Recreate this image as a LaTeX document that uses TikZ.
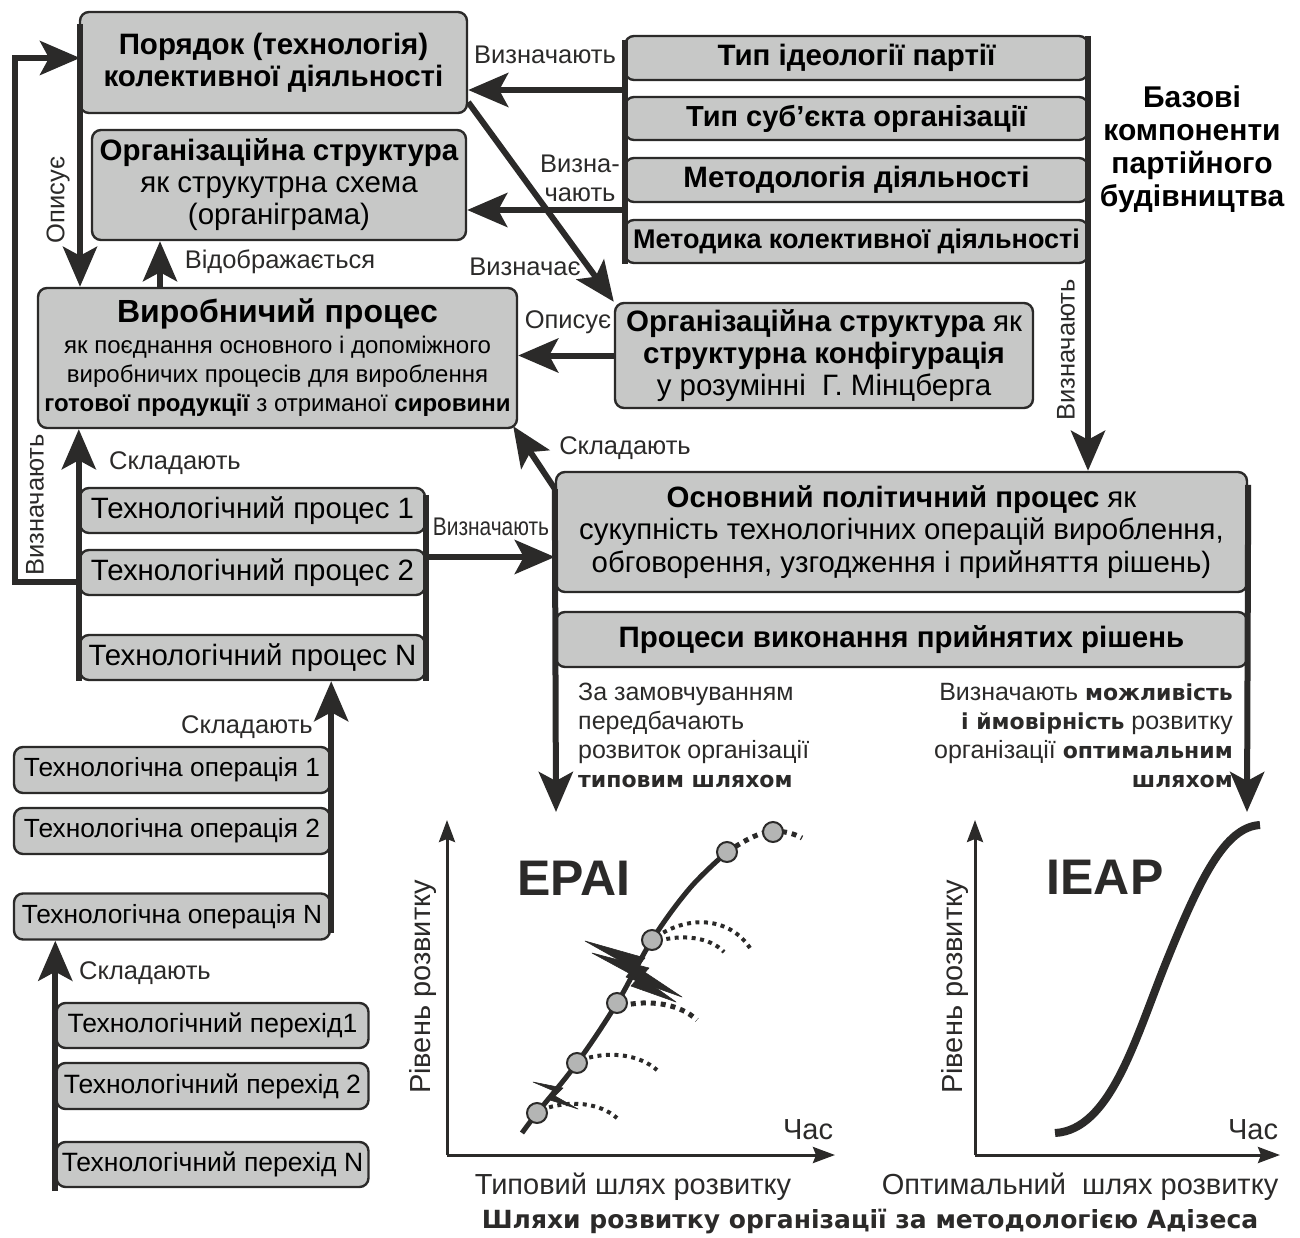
\documentclass[tikz,border=0pt]{standalone}
\usepackage{fontspec}
\setmainfont{Liberation Sans}
\newfontfamily\wide{DejaVu Sans}
\newfontfamily\cond[FakeStretch=0.82]{Liberation Sans}
\usetikzlibrary{arrows.meta}

\definecolor{ink}{HTML}{2B2A29}
\definecolor{boxfill}{HTML}{C7C8C7}
\definecolor{dotfill}{HTML}{B4B5B4}

\newcommand\fsz[2]{\fontsize{#1}{#2}\selectfont}

\begin{document}
\begin{tikzpicture}[x=1pt,y=-1pt,
  box/.style={draw=ink, line width=2.4pt, fill=boxfill, rounded corners=9pt,
    inner sep=0pt, align=center, text=black},
  conn/.style={draw=ink, line width=6pt},
  arr/.style={conn, -{Stealth[length=40pt,width=34pt,inset=9pt]}},
  lbl/.style={inner sep=0pt, text=ink, font=\fsz{25.5}{29}},
  hd/.style={font=\bfseries\fsz{29.5}{32}},
  note/.style={inner sep=0pt, text=ink, font=\fsz{25}{29}},
  axis/.style={draw=ink, line width=3pt, -{Stealth[length=22pt,width=16pt,inset=3pt]}},
  pathline/.style={draw=ink, line width=5pt},
  dotline/.style={draw=ink, line width=4pt, dash pattern=on 4pt off 4.5pt},
  stage/.style={circle, draw=ink, line width=2pt, fill=dotfill, minimum size=20pt, inner sep=0pt},
  flash/.style={fill=ink, draw=ink, line width=0.6pt, line join=round},
  gl/.style={inner sep=0pt, text=ink, font=\fsz{29}{32}}
]
\useasboundingbox (0,0) rectangle (1300,1238);

% ---------- upper block ----------
\node[box, hd, minimum width=387pt, minimum height=101pt] (b1) at (273.5,62.5)
  {Порядок (технологія)\\колективної діяльності};
\node[box, minimum width=374pt, minimum height=110pt, font=\fsz{29.5}{32}] (b2) at (279,185)
  {\textbf{Організаційна структура}\\як струкутрна схема\\(органіграма)};

% base components of party building
\node[box, font=\bfseries\fsz{29.5}{32}, minimum width=463pt, minimum height=44pt] (r1) at (856.5,58) {Тип ідеології партії};
\node[box, font=\bfseries\fsz{29}{32}, minimum width=463pt, minimum height=43pt] (r2) at (856.5,118.5) {Тип суб’єкта організації};
\node[box, font=\bfseries\fsz{29.5}{32}, minimum width=463pt, minimum height=44pt] (r3) at (856.5,180) {Методологія діяльності};
\node[box, font=\bfseries\fsz{27}{32}, minimum width=463pt, minimum height=43pt] (r4) at (856.5,241.5) {Методика колективної діяльності};
\node[inner sep=0pt, align=center, text=black, font=\bfseries\fsz{30}{33}] (base) at (1192,149)
  {Базові\\компоненти\\партійного\\будівництва};

\node[box, minimum width=479pt, minimum height=140pt, font=\fsz{24}{29}] (b3) at (277.5,358)
  {{\bfseries\fsz{32}{36}Виробничий процес}\\[2pt]
   як поєднання основного і допоміжного\\
   виробничих процесів для вироблення\\
   \textbf{готової продукції} з отриманої \textbf{сировини}};

\node[box, minimum width=418pt, minimum height=105pt, font=\fsz{29.5}{32}] (b4) at (824,355.5)
  {\textbf{Організаційна структура} як\\\textbf{структурна конфігурація}\\у розумінні~~Г. Мінцберга};

\node[box, minimum width=691pt, minimum height=120pt, font=\fsz{29.4}{32.5}] (b5) at (901.5,532)
  {\textbf{Основний політичний процес} як\\сукупність технологічних операцій вироблення,\\обговорення, узгодження і прийняття рішень)};
\node[box, hd, minimum width=691pt, minimum height=55pt] (b6) at (901.5,639.5)
  {Процеси виконання прийнятих рішень};

% technological processes
\node[box, font=\fsz{29.4}{32}, minimum width=345pt, minimum height=45pt] (tp1) at (252.5,510.5) {Технологічний процес 1};
\node[box, font=\fsz{29.4}{32}, minimum width=345pt, minimum height=45pt] (tp2) at (252.5,572.5) {Технологічний процес 2};
\node[box, font=\fsz{29.4}{32}, minimum width=345pt, minimum height=45pt] (tpN) at (252.5,657.5) {Технологічний процес N};

% technological operations
\node[box, font=\fsz{26.3}{29}, minimum width=316pt, minimum height=46pt] (to1) at (172,770) {Технологічна операція 1};
\node[box, font=\fsz{26.3}{29}, minimum width=316pt, minimum height=46pt] (to2) at (172,831) {Технологічна операція 2};
\node[box, font=\fsz{26.3}{29}, minimum width=316pt, minimum height=46pt] (toN) at (172,916.5) {Технологічна операція N};

% technological transitions
\node[box, font=\fsz{26.5}{29}, minimum width=312pt, minimum height=45pt] (tt1) at (212.5,1025.5) {Технологічний перехід1};
\node[box, font=\fsz{26.5}{29}, minimum width=312pt, minimum height=46pt] (tt2) at (212.5,1086) {Технологічний перехід 2};
\node[box, font=\fsz{26.5}{29}, minimum width=312pt, minimum height=45pt] (ttN) at (212.5,1164.5) {Технологічний перехід N};

% ---------- connectors ----------
\coordinate (rgTop) at (625,40);
\coordinate (rgA) at (625,90);
\coordinate (rgB) at (625,210);
\coordinate (rgR) at (1088,36);
\draw[conn] (rgTop) -- (rgTop |- r4.south);
\draw[arr] (rgA) -- (rgA -| b1.east);
\draw[arr] (rgB) -- (rgB -| b2.east);
\draw[arr] (rgR) -- (rgR |- b5.north);

\draw[arr] ([yshift=12pt]b1.south east) -- (b4.north west);
\draw[arr] (b4.west) -- (b4.west -| b3.east);

\coordinate (opA) at (80,24);
\draw[arr] (opA) -- (opA |- b3.north);
\coordinate (vA) at (160,288);
\draw[arr] (vA) -- (vA |- b2.south);

\coordinate (loopA) at (80,582);
\coordinate (loopB) at (80,58);
\draw[conn, -{Stealth[length=40pt,width=34pt,inset=9pt]}, line join=miter]
  (loopA) -- (15,582) -- (15,58) -- (loopB);

\draw[arr] (tpN.south west) -- (tpN.south west |- b3.south);
\draw[conn] ([yshift=-8pt]tp1.north east) -- (tpN.south east);

\coordinate (tpA) at (425,557);
\draw[arr] (tpA) -- (tpA -| b5.west);
\draw[arr] ([yshift=-18pt]b5.north west) -- ([xshift=-5pt,yshift=3pt]b3.south east);

\draw[arr] ([yshift=8pt]toN.south east) -- (toN.south east |- tpN.south);
\draw[arr] ([yshift=-3pt]ttN.south west) -- (ttN.south west |- toN.south);

\coordinate (pL) at (556,812);
\coordinate (pR) at (1247,812);
\draw[arr] ([yshift=-18pt]b5.north west) -- (pL);
\draw[arr] ([yshift=-14pt]b5.north east) -- (pR);

% ---------- connector labels ----------
\node[lbl] at (545,55) {Визначають};
\node[lbl, align=center] at (580,178) {Визна-\\чають};
\node[lbl] at (525,267) {Визначає};
\node[lbl, rotate=90] at (58,200) {Описує};
\node[lbl] at (280,262) {Відображається};
\node[lbl] at (568,322) {Описує};
\node[lbl, rotate=90] at (1066,350) {Визначають};
\node[lbl] at (625,448) {Складають};
\node[lbl, font=\cond\fsz{25.5}{29}] at (491,527) {Визначають};
\node[lbl, rotate=90] at (35,505) {Визначають};
\node[lbl] at (175,463) {Складають};
\node[lbl] at (247,727) {Складають};
\node[lbl] at (145,973) {Складають};

% ---------- notes under the execution processes ----------
\node[note, anchor=north west, align=left] at (578,683)
  {За замовчуванням\\передбачають\\розвиток організації\\{\wide\bfseries\fsz{22}{29}типовим шляхом}};
\node[note, anchor=north east, align=right] at (1233,683)
  {Визначають {\wide\bfseries\fsz{22}{29}можливість}\\{\wide\bfseries\fsz{22}{29}і ймовірність} розвитку\\організації {\wide\bfseries\fsz{22}{29}оптимальним}\\{\wide\bfseries\fsz{22}{29}шляхом}};

% ---------- typical path (EPAI) ----------
\coordinate (o1) at (447,1155);
\draw[axis] (o1) -- ++(0,-335);
\draw[axis] (o1) -- ++(388,0);
\node[gl, rotate=90] at (423,987) {Рівень розвитку};
\node[gl] at (808,1130) {Час};
\node[inner sep=0pt, text=ink, font=\bfseries\fsz{50}{54}] at (574,878) {EPAI};
\node[gl] at (633,1187) {Типовий шлях розвитку};

\draw[dotline] (541,1110) .. controls (570,1099) and (600,1103) .. (617,1118);
\draw[dotline] (581,1060) .. controls (610,1050) and (640,1055) .. (657,1070);
\draw[dotline, line width=5pt, dash pattern=on 5pt off 5pt] (621,1006) .. controls (650,999) and (680,1004) .. (697,1020);
\draw[dotline] (656,937) .. controls (690,914) and (730,918) .. (750,948);
\draw[dotline] (658,941) .. controls (682,934) and (710,937) .. (724,952);
\draw[pathline] plot[smooth, tension=0.6] coordinates
  {(522,1133) (537,1113) (577,1063) (617,1003) (652,940) (690,888) (727,852)};
\draw[dotline, line width=5pt, dash pattern=on 5pt off 5pt] (727,852) .. controls (745,840) and (760,832) .. (773,831) .. controls (785,831) and (795,834) .. (802,838);

\draw[flash] (533,1082) -- (563,1088) -- (555,1096) -- (578,1109) -- (547,1099) -- (554,1091) -- cycle;
\draw[flash] (585,941) -- (645,958) -- (637,967) -- (682,997) -- (626,977) -- (633,968) -- cycle;
\draw[flash] (592,953) -- (649,968) -- (641,977) -- (676,1002) -- (631,986) -- (638,978) -- cycle;

\node[stage] (s1) at (537,1113) {};
\node[stage] (s2) at (577,1063) {};
\node[stage] (s3) at (617,1003) {};
\node[stage] (s4) at (652,940) {};
\node[stage] (s5) at (727,852) {};
\node[stage] (s6) at (773,832) {};

% ---------- optimal path (IEAP) ----------
\coordinate (o2) at (975,1155);
\draw[axis] (o2) -- ++(0,-335);
\draw[axis] (o2) -- ++(305,0);
\node[gl, rotate=90] at (955,987) {Рівень розвитку};
\node[gl] at (1253,1130) {Час};
\node[inner sep=0pt, text=ink, font=\bfseries\fsz{50}{54}] at (1105,877) {IEAP};
\node[gl] at (1080,1187) {Оптимальний~~шлях розвитку};
\draw[draw=ink, line width=8pt] (1055,1133) .. controls (1110,1130) and (1135,1040) .. (1165,965)
  .. controls (1200,878) and (1225,827) .. (1260,825);

\node[inner sep=0pt, text=ink, font=\wide\bfseries\fsz{25}{28}] at (870,1222)
  {Шляхи розвитку організації за методологією Адізеса};
\end{tikzpicture}
\end{document}
